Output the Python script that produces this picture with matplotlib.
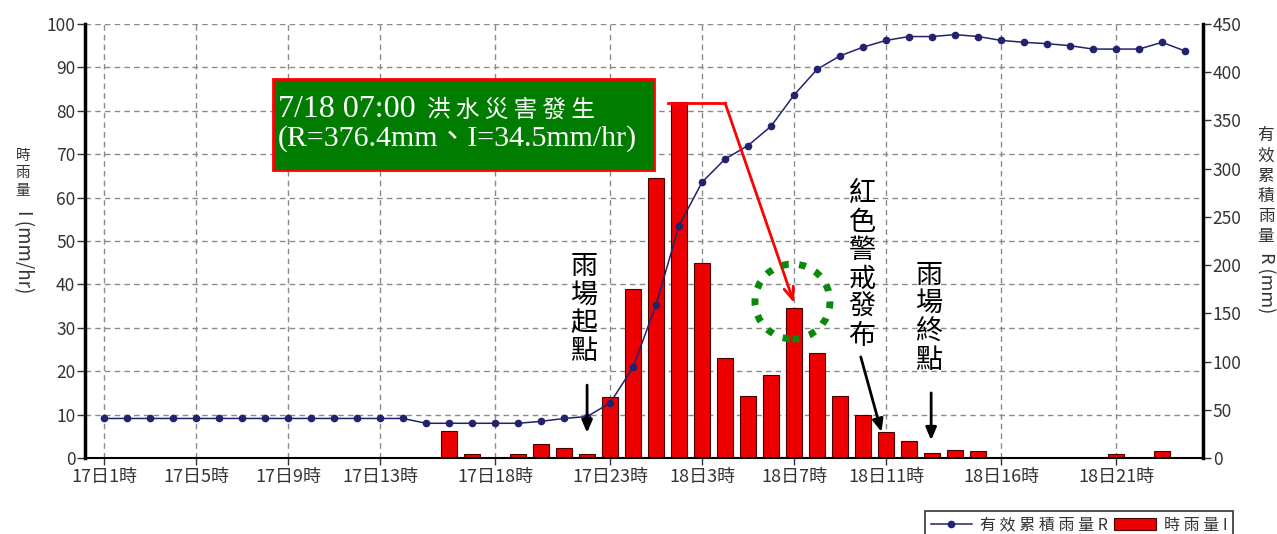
import matplotlib
matplotlib.use("Agg")
import matplotlib.pyplot as plt
from matplotlib.patches import Rectangle, Circle
from matplotlib.transforms import ScaledTranslation

plt.rcParams['font.family'] = ['Noto Sans CJK TC', 'DejaVu Sans']

# hourly slots, index 0 = 17日1時 ... index 47 = 19日0時
hours = list(range(48))
tick_pos = [0, 4, 8, 12, 17, 22, 26, 30, 34, 39, 44]
tick_labels = ["17日1時", "17日5時", "17日9時", "17日13時", "17日18時", "17日23時",
               "18日3時", "18日7時", "18日11時", "18日16時", "18日21時"]

# 時雨量 I (mm/hr)
rain_i = [0, 0, 0, 0, 0, 0, 0, 0, 0, 0, 0, 0, 0, 0, 0,
          6.3, 1.0, 0, 1.0, 3.2, 2.2, 1.0, 14.0, 39.0, 64.5, 82.0, 45.0, 23.0,
          14.3, 19.1, 34.5, 24.3, 14.3, 10.0, 6.0, 4.0, 1.2, 1.8, 1.5,
          0, 0, 0, 0, 0, 1.0, 0, 1.5, 0]

# 有效累積雨量 R (mm)
rain_r = [41, 41, 41, 41, 41, 41, 41, 41, 41, 41, 41, 41, 41, 41,
          36, 36, 36, 36, 36, 38, 41, 43, 57, 94, 159, 241, 286, 310,
          324, 344, 376.4, 403, 417, 426, 433, 437, 437, 439, 437, 433,
          431, 429.6, 427.5, 424, 424, 424, 431, 422]

fig = plt.figure(figsize=(12.77, 5.34), dpi=100)
ax = fig.add_axes([85 / 1277, 76 / 534, 1118 / 1277, 434 / 534])
ax2 = ax.twinx()

# --- bars (left axis) ---
bars = ax.bar(hours, rain_i, width=0.7, color="#ee0000", edgecolor="#4a0000", linewidth=0.8, zorder=2)
ax.set_xlim(-0.83, 47.78)
ax.set_ylim(0, 100)
ax.set_yticks(range(0, 101, 10))
ax.set_xticks(tick_pos)
ax.set_xticklabels(tick_labels)
ax.set_axisbelow(True)
ax.grid(True, linestyle=(0, (4, 3)), color="#8a8a8a", linewidth=1)
ax.tick_params(axis="y", labelsize=12.5, colors="#333333", length=6, width=1, pad=1)
ax.tick_params(axis="x", labelsize=13, colors="#333333", length=5, width=1, pad=2)

# --- line (right axis) ---
line, = ax2.plot(hours, rain_r, color="#22226e", linewidth=1.1, marker="o", markersize=4.5, zorder=3)
ax2.set_ylim(0, 450)
ax2.set_yticks(range(0, 451, 50))
ax2.tick_params(axis="y", labelsize=12.5, colors="#333333", length=6, width=1, pad=1)

for a in (ax, ax2):
    a.spines["top"].set_visible(False)
ax.spines["right"].set_visible(False)
ax2.spines["left"].set_visible(False)
ax2.spines["bottom"].set_visible(False)
ax.spines["left"].set_linewidth(2.5)
ax2.spines["right"].set_linewidth(2.5)
ax.spines["bottom"].set_linewidth(1.5)

# --- axis titles (vertical writing) ---
fig.text(23 / 1277, 1 - 149 / 534, "時\n雨\n量", ha="center", va="top", fontsize=10.5,
         linespacing=1.3, color="#333333")
fig.text(23 / 1277, 1 - 210 / 534, "I (mm/hr)", ha="center", va="top", rotation=-90,
         fontsize=13.5, color="#333333")
fig.text(1266 / 1277, 1 - 127 / 534, "有\n效\n累\n積\n雨\n量", ha="center", va="top",
         fontsize=12, linespacing=1.25, color="#333333")
fig.text(1266 / 1277, 1 - 252 / 534, "R (mm)", ha="center", va="top", rotation=-90,
         fontsize=13, color="#333333")

# --- annotations ---
T = ax.transData
ax2.add_patch(Rectangle((7.35, 66.4), 16.55, 20.9, transform=T, facecolor="#007d00",
                        edgecolor="#ff0000", linewidth=2, zorder=5))
ax2.text(7.57, 78.6, "7/18 07:00", transform=T, family="Liberation Serif", fontsize=23,
         color="white", va="baseline", zorder=6)
ax2.text(14.04, 78.6, "洪 水 災 害 發 生", transform=T, family="Noto Sans CJK TC",
         fontsize=17, color="white", va="baseline", zorder=6)
ax2.text(7.57, 71.9, "(R=376.4mm、I=34.5mm/hr)", transform=T,
         family=["Liberation Serif", "Noto Sans CJK TC"], fontsize=21.5, color="white",
         va="baseline", zorder=6)

ax2.plot([24.52, 27.0], [81.8, 81.8], transform=T, color="#ff0000", linewidth=2, zorder=6)
ax2.annotate("", xy=(30.0, 35.7), xytext=(27.0, 81.8), xycoords=T, textcoords=T,
             arrowprops=dict(arrowstyle="->,head_length=0.9,head_width=0.35", color="#ff0000",
                             lw=2, shrinkA=0, shrinkB=0), zorder=6)

circ = Circle((0, 0), 0.375, transform=fig.dpi_scale_trans + ScaledTranslation(29.93, 36.06, T),
              fill=False, edgecolor="#0a8a0a", linewidth=5, linestyle=(0, (1, 1.5)), zorder=6)
ax2.add_artist(circ)

notes = [("雨\n場\n起\n點", 20.87, 34.3, (21.0, 16.8), (21.0, 5.8)),
         ("紅\n色\n警\n戒\n發\n布", 32.96, 44.5, (32.9, 23.3), (33.8, 6.0)),
         ("雨\n場\n終\n點", 35.87, 32.3, (35.96, 15.0), (35.96, 4.1))]
for txt, tx, ty, p0, p1 in notes:
    ax2.text(tx, ty, txt, transform=T, ha="center", va="center", fontsize=19.5,
             fontweight="medium", linespacing=1.07, color="black", zorder=6)
    ax2.annotate("", xy=p1, xytext=p0, xycoords=T, textcoords=T,
                 arrowprops=dict(arrowstyle="-|>,head_length=0.75,head_width=0.32",
                                 color="black", lw=2, shrinkA=0, shrinkB=0), zorder=6)

# --- legend ---
leg = fig.legend([line, bars], ["有 效 累 積 雨 量 R", "時 雨 量 I"], loc="upper left",
                 bbox_to_anchor=(925 / 1277, 1 - 511 / 534), ncol=2, frameon=True,
                 fancybox=False, edgecolor="black", fontsize=11.5, borderaxespad=0,
                 handlelength=2.6, columnspacing=0.4, handletextpad=0.5, borderpad=0.35)
leg.get_frame().set_linewidth(1.2)
for t in leg.get_texts():
    t.set_color("#333333")

fig.savefig("out.png", dpi=100, facecolor="white")
